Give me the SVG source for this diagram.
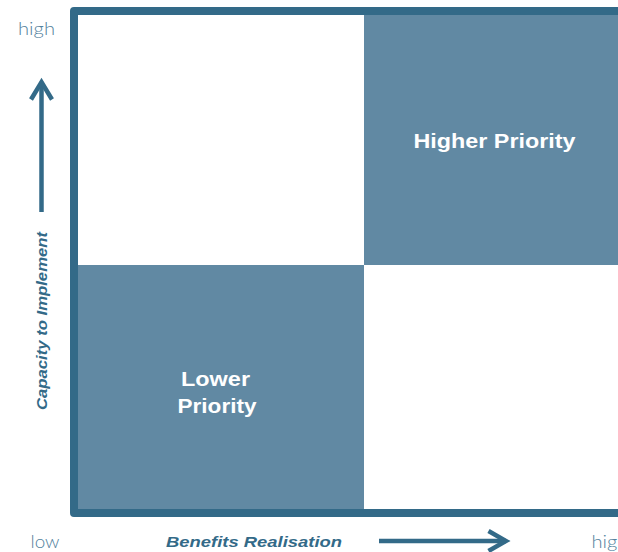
<svg xmlns="http://www.w3.org/2000/svg" width="618" height="552" viewBox="0 0 618 552">
<style>
.quad{fill:#6189a3;}
.frame{fill:none;stroke:#336a88;stroke-width:8;stroke-linejoin:round;}
.arrow{fill:none;stroke:#336a88;stroke-width:4.5;stroke-linecap:butt;stroke-linejoin:miter;}
.axis{font-family:"Liberation Sans",Arial,sans-serif;font-weight:bold;font-style:italic;font-size:15.5px;fill:#336a88;}
.scale{font-family:Lato,"Open Sans",sans-serif;font-weight:300;font-size:17px;fill:#53829e;}
.qlabel{font-family:"Liberation Sans",Arial,sans-serif;font-weight:bold;font-size:21px;fill:#ffffff;text-anchor:middle;}
</style>
<rect width="618" height="552" fill="#ffffff"/>
<g id="quadrant-higher">
<rect class="quad" x="364" y="15" width="260" height="250"/>
<text class="qlabel" x="494.5" y="147.5" textLength="162" lengthAdjust="spacingAndGlyphs">Higher Priority</text>
</g>
<g id="quadrant-lower">
<rect class="quad" x="78" y="265" width="286" height="244"/>
<text class="qlabel" x="215.5" y="386" textLength="69" lengthAdjust="spacingAndGlyphs">Lower</text>
<text class="qlabel" x="217" y="413" textLength="79" lengthAdjust="spacingAndGlyphs">Priority</text>
</g>
<g id="frame">
<path class="frame" d="M630 11 H74 V513 H630"/>
</g>
<g id="connectors">
<line class="arrow" x1="41.5" y1="212" x2="41.5" y2="82"/>
<polyline class="arrow" points="31,99.5 41.5,82 52,99.5"/>
<line class="arrow" x1="379" y1="541" x2="506" y2="541"/>
<polyline class="arrow" points="488.5,531 506,541 488.5,551"/>
</g>
<g id="labels">
<text class="scale" x="18" y="35" textLength="37" lengthAdjust="spacingAndGlyphs">high</text>
<text class="scale" x="30.5" y="548" textLength="29" lengthAdjust="spacingAndGlyphs">low</text>
<text class="scale" x="591.5" y="548" textLength="37" lengthAdjust="spacingAndGlyphs">high</text>
<text class="axis" x="166" y="547.3" textLength="176" lengthAdjust="spacingAndGlyphs">Benefits Realisation</text>
<text class="axis" transform="translate(46.5,410) rotate(-90)" x="0" y="0" textLength="178" lengthAdjust="spacingAndGlyphs">Capacity to Implement</text>
</g>
</svg>
